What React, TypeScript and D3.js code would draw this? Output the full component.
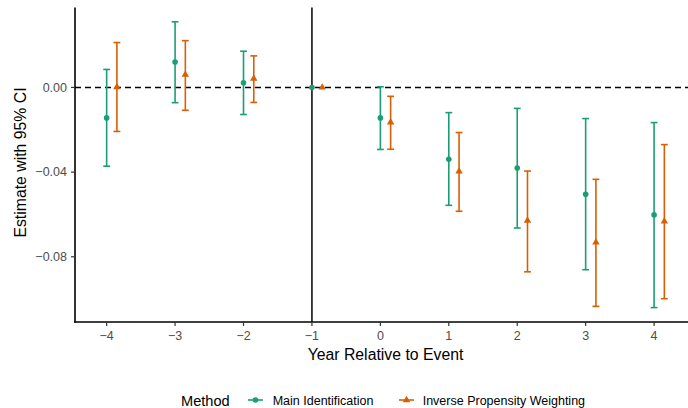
import React from "react";
import * as d3 from "d3";

const years = [-4, -3, -2, -1, 0, 1, 2, 3, 4];
const mainEst = [-0.0144, 0.012, 0.0022, 0, -0.0144, -0.0339, -0.0381, -0.0505, -0.0602];
const mainLo = [-0.0372, -0.0072, -0.0128, null, -0.0293, -0.0557, -0.0664, -0.0861, -0.104];
const mainHi = [0.0085, 0.031, 0.0171, null, 0.0003, -0.0119, -0.0099, -0.0147, -0.0166];
const ipwEst = [0.0002, 0.006, 0.0042, 0, -0.0165, -0.0397, -0.0629, -0.0732, -0.0632];
const ipwLo = [-0.0208, -0.0108, -0.0071, null, -0.0292, -0.0585, -0.0871, -0.1034, -0.0998];
const ipwHi = [0.0212, 0.0221, 0.0149, null, -0.0042, -0.0213, -0.0395, -0.0434, -0.027];
const yTicks = [0, -0.04, -0.08];
const methods = ["Main Identification", "Inverse Propensity Weighting"];

const W = 688;
const H = 408;
const FONT = "'Liberation Sans', Arial, Helvetica, sans-serif";
const GREEN = "#1B9E77";
const ORANGE = "#D95F02";
const GREY = "#4D4D4D";

export default function App() {
  const x = d3.scaleLinear().domain([-4.4625, 4.6125]).range([75, 696]);
  const y = d3.scaleLinear().domain([-0.1108, 0.0378]).range([322, 7.4]);
  const dodge = 0.15;
  const capHalf = 0.05;
  const tri = d3.symbol().type(d3.symbolTriangle).size(24)();

  const series = [
    { name: methods[0], color: GREEN, off: 0, est: mainEst, lo: mainLo, hi: mainHi, shape: "circle" },
    { name: methods[1], color: ORANGE, off: dodge, est: ipwEst, lo: ipwLo, hi: ipwHi, shape: "triangle" },
  ];

  const fmt = (v: number) => (v === 0 ? "0.00" : d3.format(".2f")(v).replace("-", "\u2212"));

  return (
    <svg
      width={W}
      height={H}
      style={{ position: "absolute", left: 0, top: 0, background: "#fff" }}
      fontFamily={FONT}
    >
      <rect x={0} y={0} width={W} height={H} fill="#fff" />
      {/* reference lines */}
      <line x1={x.range()[0]} x2={x.range()[1]} y1={y(0)} y2={y(0)} stroke="#000" strokeWidth={1.5} strokeDasharray="6 4" />
      <line x1={x(-1)} x2={x(-1)} y1={y.range()[1]} y2={y.range()[0]} stroke="#000" strokeWidth={1.5} />

      {/* error bars and points */}
      {series.map((s) => (
        <g key={s.name}>
          {years.map((yr, i) => {
            const lo = s.lo[i];
            const hi = s.hi[i];
            if (lo === null || hi === null) return null;
            const cx = x(yr + s.off);
            const x0 = x(yr + s.off - capHalf);
            const x1 = x(yr + s.off + capHalf);
            return (
              <g key={yr} stroke={s.color} strokeWidth={1.6} fill="none">
                <line x1={cx} x2={cx} y1={y(lo)} y2={y(hi)} />
                <line x1={x0} x2={x1} y1={y(lo)} y2={y(lo)} />
                <line x1={x0} x2={x1} y1={y(hi)} y2={y(hi)} />
              </g>
            );
          })}
          {years.map((yr, i) => {
            const cx = x(yr + s.off);
            const cy = y(s.est[i]);
            return s.shape === "circle" ? (
              <circle key={"p" + yr} cx={cx} cy={cy} r={2.8} fill={s.color} />
            ) : (
              <path key={"p" + yr} d={tri || ""} transform={`translate(${cx},${cy})`} fill={s.color} />
            );
          })}
        </g>
      ))}

      {/* axes */}
      <line x1={75} x2={75} y1={y.range()[1]} y2={y.range()[0] + 0.8} stroke="#000" strokeWidth={1.6} />
      <line x1={74.2} x2={x.range()[1]} y1={322} y2={322} stroke="#000" strokeWidth={1.6} />
      {yTicks.map((t) => (
        <g key={t}>
          <line x1={71} x2={75} y1={y(t)} y2={y(t)} stroke="#333" strokeWidth={1.2} />
          <text x={67} y={y(t)} dy="0.35em" textAnchor="end" fontSize={12.5} fill={GREY}>
            {fmt(t)}
          </text>
        </g>
      ))}
      {years.map((t) => (
        <g key={t}>
          <line x1={x(t)} x2={x(t)} y1={322} y2={326} stroke="#333" strokeWidth={1.2} />
          <text x={x(t)} y={340} textAnchor="middle" fontSize={12.5} fill={GREY}>
            {t < 0 ? "\u2212" + Math.abs(t) : String(t)}
          </text>
        </g>
      ))}

      {/* axis titles */}
      <text x={(x.range()[0] + x.range()[1]) / 2} y={359.5} textAnchor="middle" fontSize={15.8} fill="#000">
        Year Relative to Event
      </text>
      <text transform="translate(26,162.5) rotate(-90)" textAnchor="middle" fontSize={15.8} fill="#000">
        Estimate with 95% CI
      </text>

      {/* legend */}
      <text x={181} y={405.5} fontSize={14.6} fill="#000">
        Method
      </text>
      <g>
        <line x1={248} x2={263} y1={400} y2={400} stroke={GREEN} strokeWidth={1.6} />
        <circle cx={255.5} cy={400} r={2.8} fill={GREEN} />
        <text x={272.7} y={405} fontSize={12.5} fill="#000">
          {methods[0]}
        </text>
      </g>
      <g>
        <line x1={399} x2={414} y1={400} y2={400} stroke={ORANGE} strokeWidth={1.6} />
        <path d={tri || ""} transform="translate(406.5,400)" fill={ORANGE} />
        <text x={422.7} y={405} fontSize={12.5} fill="#000">
          {methods[1]}
        </text>
      </g>
    </svg>
  );
}
